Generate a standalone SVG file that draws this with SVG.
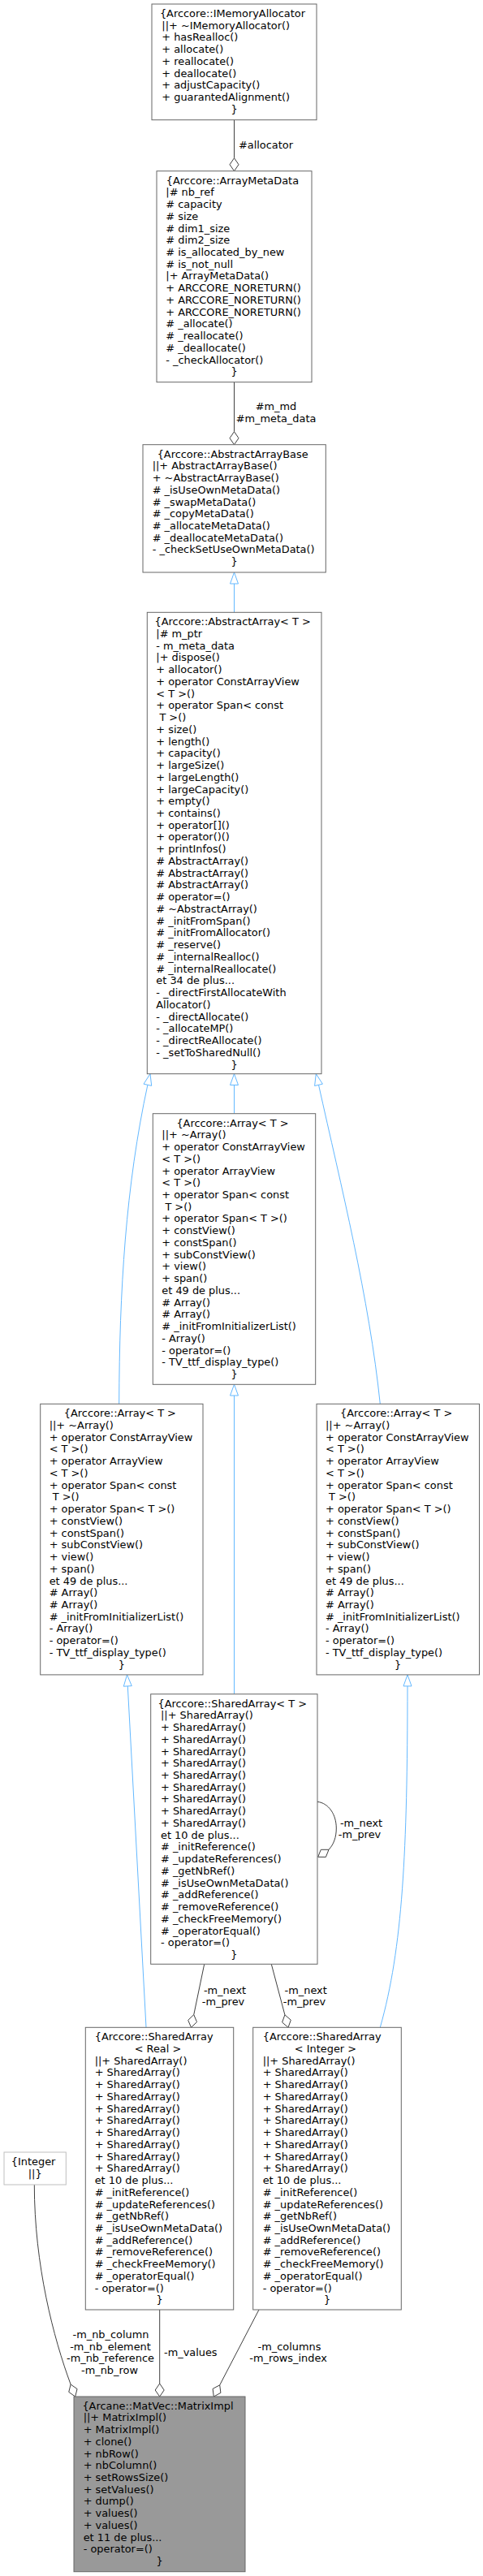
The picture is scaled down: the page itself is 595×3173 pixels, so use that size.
<svg xmlns="http://www.w3.org/2000/svg" width="595" height="3173" viewBox="0 0 595 3173">
<style>
.box{fill:#ffffff;stroke:#666666;stroke-width:1}
.boxg{fill:#ffffff;stroke:#bfbfbf;stroke-width:1}
.boxm{fill:#999999;stroke:#666666;stroke-width:1}
text{font-family:"DejaVu Sans","Liberation Sans",sans-serif;font-size:12.9px;fill:#000000}
.c{text-anchor:middle}
.agg{fill:none;stroke:#404040;stroke-width:1}
.inh{fill:none;stroke:#63b8ff;stroke-width:1}
.dia{fill:#ffffff;stroke:#404040;stroke-width:1}
.tri{fill:#ffffff;stroke:#63b8ff;stroke-width:1}
</style>
<rect width="595" height="3173" fill="#ffffff"/>
<g id="edges">
  <path class="agg" d="M288.5,147.7 L288.5,194.7"/>
  <polygon class="dia" points="288.5,210.7 294,202.7 288.5,194.7 283,202.7"/>
  <text class="c" x="327.5" y="182.8">#allocator</text>
  <path class="agg" d="M288.5,470.7 L288.5,531.7"/>
  <polygon class="dia" points="288.5,547.7 294,539.7 288.5,531.7 283,539.7"/>
  <text class="c" x="340" y="504.5">#m_md</text>
  <text class="c" x="340" y="519.5">#m_meta_data</text>
  <path class="inh" d="M288.5,719 L288.5,754.3"/>
  <polygon class="tri" points="288.5,705 283.5,719 293.5,719"/>
  <path class="inh" d="M146.7,1729.3 C147,1590 155,1460 181.9,1336.3"/>
  <polygon class="tri" points="185,1322.7 186.7,1337.4 177,1335.2"/>
  <path class="inh" d="M288.5,1336.5 L288.5,1371.7"/>
  <polygon class="tri" points="288.5,1322.7 283.5,1336.5 293.5,1336.5"/>
  <path class="inh" d="M468.3,1729.3 C455,1600 420,1460 392.5,1336.3"/>
  <polygon class="tri" points="389.3,1322.7 397.4,1335.2 387.6,1337.5"/>
  <path class="inh" d="M288.5,1719 L288.5,2086.7"/>
  <polygon class="tri" points="288.5,1705.3 283.5,1719 293.5,1719"/>
  <path class="inh" d="M157.3,2076.9 L180,2497.3"/>
  <polygon class="tri" points="156.5,2062.9 162.3,2076.6 152.3,2077.2"/>
  <path class="inh" d="M502,2076.9 C502,2280 496,2400 468.3,2497.3"/>
  <polygon class="tri" points="502,2062.9 497,2076.9 507,2076.9"/>
  <path class="agg" d="M391,2219.3 C405,2221 414.3,2235 414.3,2252 C414.3,2263 411,2272 405,2278.3"/>
  <polygon class="dia" points="391.7,2287.3 401.4,2287.4 405,2278.3 395.3,2278.3"/>
  <text class="c" x="445" y="2249.5">-m_next</text>
  <text class="c" x="443" y="2264">-m_prev</text>
  <path class="agg" d="M251.7,2419.3 L238.75,2481.6"/>
  <polygon class="dia" points="235.5,2497.3 242.5,2490.6 238.75,2481.6 231.7,2488.4"/>
  <text class="c" x="277" y="2455.5">-m_next</text>
  <text class="c" x="275" y="2469.5">-m_prev</text>
  <path class="agg" d="M334.3,2419.3 L350.9,2481.8"/>
  <polygon class="dia" points="355,2497.3 358.3,2488.2 350.9,2481.8 347.6,2491"/>
  <text class="c" x="376.7" y="2455.5">-m_next</text>
  <text class="c" x="375" y="2469.5">-m_prev</text>
  <path class="agg" d="M42.3,2691 C42.3,2790 66,2880 87.1,2937"/>
  <polygon class="dia" points="92.7,2952 95.05,2942.6 87.1,2937 84.75,2946.4"/>
  <text class="c" x="136.5" y="2880">-m_nb_column</text>
  <text class="c" x="136" y="2894.5">-m_nb_element</text>
  <text class="c" x="136" y="2909">-m_nb_reference</text>
  <text class="c" x="135" y="2923.8">-m_nb_row</text>
  <path class="agg" d="M196.7,2845 L196.7,2936"/>
  <polygon class="dia" points="196.7,2952 202.2,2944 196.7,2936 191.2,2944"/>
  <text class="c" x="234.8" y="2902">-m_values</text>
  <path class="agg" d="M319,2845 L270.7,2937.8"/>
  <polygon class="dia" points="263.3,2952 271.9,2947.4 270.7,2937.8 262.1,2942.4"/>
  <text class="c" x="356.5" y="2894.5">-m_columns</text>
  <text class="c" x="355" y="2909">-m_rows_index</text>
</g>

<g id="node_IMemoryAllocator">
  <rect class="box" x="187" y="5" width="203" height="142.7"/>
  <text>
    <tspan class="c" x="288.5" y="20.8">{Arccore::IMemoryAllocator</tspan>
    <tspan x="199.3" y="35.5">||+ ~IMemoryAllocator()</tspan>
    <tspan x="199.3" y="50.3">+ hasRealloc()</tspan>
    <tspan x="199.3" y="65">+ allocate()</tspan>
    <tspan x="199.3" y="79.8">+ reallocate()</tspan>
    <tspan x="199.3" y="94.5">+ deallocate()</tspan>
    <tspan x="199.3" y="109.2">+ adjustCapacity()</tspan>
    <tspan x="199.3" y="124">+ guarantedAlignment()</tspan>
    <tspan class="c" x="288.5" y="138.7">}</tspan>
  </text>
</g>

<g id="node_ArrayMetaData">
  <rect class="box" x="193" y="210.7" width="191" height="260"/>
  <text>
    <tspan class="c" x="288.5" y="226.5">{Arccore::ArrayMetaData</tspan>
    <tspan x="204.3" y="241.2">|# nb_ref</tspan>
    <tspan x="204.3" y="256"># capacity</tspan>
    <tspan x="204.3" y="270.7"># size</tspan>
    <tspan x="204.3" y="285.5"># dim1_size</tspan>
    <tspan x="204.3" y="300.2"># dim2_size</tspan>
    <tspan x="204.3" y="314.9"># is_allocated_by_new</tspan>
    <tspan x="204.3" y="329.7"># is_not_null</tspan>
    <tspan x="204.3" y="344.4">|+ ArrayMetaData()</tspan>
    <tspan x="204.3" y="359.2">+ ARCCORE_NORETURN()</tspan>
    <tspan x="204.3" y="373.9">+ ARCCORE_NORETURN()</tspan>
    <tspan x="204.3" y="388.6">+ ARCCORE_NORETURN()</tspan>
    <tspan x="204.3" y="403.4"># _allocate()</tspan>
    <tspan x="204.3" y="418.1"># _reallocate()</tspan>
    <tspan x="204.3" y="432.9"># _deallocate()</tspan>
    <tspan x="204.3" y="447.6">- _checkAllocator()</tspan>
    <tspan class="c" x="288.5" y="462.3">}</tspan>
  </text>
</g>

<g id="node_AbstractArrayBase">
  <rect class="box" x="176" y="547.7" width="225.3" height="157.3"/>
  <text>
    <tspan class="c" x="288.7" y="563.5">{Arccore::AbstractArrayBase</tspan>
    <tspan x="187.7" y="578.2">||+ AbstractArrayBase()</tspan>
    <tspan x="187.7" y="593">+ ~AbstractArrayBase()</tspan>
    <tspan x="187.7" y="607.7"># _isUseOwnMetaData()</tspan>
    <tspan x="187.7" y="622.5"># _swapMetaData()</tspan>
    <tspan x="187.7" y="637.2"># _copyMetaData()</tspan>
    <tspan x="187.7" y="651.9"># _allocateMetaData()</tspan>
    <tspan x="187.7" y="666.7"># _deallocateMetaData()</tspan>
    <tspan x="187.7" y="681.4">- _checkSetUseOwnMetaData()</tspan>
    <tspan class="c" x="288.7" y="696.2">}</tspan>
  </text>
</g>

<g id="node_AbstractArray">
  <rect class="box" x="181.3" y="754.3" width="214.7" height="568.4"/>
  <text>
    <tspan class="c" x="288.7" y="770.1">{Arccore::AbstractArray&lt; T &gt;</tspan>
    <tspan x="192.3" y="784.8">|# m_ptr</tspan>
    <tspan x="192.3" y="799.6">- m_meta_data</tspan>
    <tspan x="192.3" y="814.3">|+ dispose()</tspan>
    <tspan x="192.3" y="829.1">+ allocator()</tspan>
    <tspan x="192.3" y="843.8">+ operator ConstArrayView</tspan>
    <tspan x="192.3" y="858.5">&lt; T &gt;()</tspan>
    <tspan x="192.3" y="873.3">+ operator Span&lt; const</tspan>
    <tspan x="192.3" y="888">&#160;T &gt;()</tspan>
    <tspan x="192.3" y="902.8">+ size()</tspan>
    <tspan x="192.3" y="917.5">+ length()</tspan>
    <tspan x="192.3" y="932.2">+ capacity()</tspan>
    <tspan x="192.3" y="947">+ largeSize()</tspan>
    <tspan x="192.3" y="961.7">+ largeLength()</tspan>
    <tspan x="192.3" y="976.5">+ largeCapacity()</tspan>
    <tspan x="192.3" y="991.2">+ empty()</tspan>
    <tspan x="192.3" y="1005.9">+ contains()</tspan>
    <tspan x="192.3" y="1020.7">+ operator[]()</tspan>
    <tspan x="192.3" y="1035.4">+ operator()()</tspan>
    <tspan x="192.3" y="1050.2">+ printInfos()</tspan>
    <tspan x="192.3" y="1064.9"># AbstractArray()</tspan>
    <tspan x="192.3" y="1079.6"># AbstractArray()</tspan>
    <tspan x="192.3" y="1094.4"># AbstractArray()</tspan>
    <tspan x="192.3" y="1109.1"># operator=()</tspan>
    <tspan x="192.3" y="1123.9"># ~AbstractArray()</tspan>
    <tspan x="192.3" y="1138.6"># _initFromSpan()</tspan>
    <tspan x="192.3" y="1153.3"># _initFromAllocator()</tspan>
    <tspan x="192.3" y="1168.1"># _reserve()</tspan>
    <tspan x="192.3" y="1182.8"># _internalRealloc()</tspan>
    <tspan x="192.3" y="1197.6"># _internalReallocate()</tspan>
    <tspan x="192.3" y="1212.3">et 34 de plus...</tspan>
    <tspan x="192.3" y="1227">- _directFirstAllocateWith</tspan>
    <tspan x="192.3" y="1241.8">Allocator()</tspan>
    <tspan x="192.3" y="1256.5">- _directAllocate()</tspan>
    <tspan x="192.3" y="1271.3">- _allocateMP()</tspan>
    <tspan x="192.3" y="1286">- _directReAllocate()</tspan>
    <tspan x="192.3" y="1300.7">- _setToSharedNull()</tspan>
    <tspan class="c" x="288.7" y="1315.5">}</tspan>
  </text>
</g>

<g id="node_Array_mid">
  <rect class="box" x="188.3" y="1371.7" width="200.4" height="333.6"/>
  <text>
    <tspan class="c" x="288.5" y="1387.5">{Arccore::Array&lt; T &gt;</tspan>
    <tspan x="199.3" y="1402.2">||+ ~Array()</tspan>
    <tspan x="199.3" y="1417">+ operator ConstArrayView</tspan>
    <tspan x="199.3" y="1431.7">&lt; T &gt;()</tspan>
    <tspan x="199.3" y="1446.5">+ operator ArrayView</tspan>
    <tspan x="199.3" y="1461.2">&lt; T &gt;()</tspan>
    <tspan x="199.3" y="1475.9">+ operator Span&lt; const</tspan>
    <tspan x="199.3" y="1490.7">&#160;T &gt;()</tspan>
    <tspan x="199.3" y="1505.4">+ operator Span&lt; T &gt;()</tspan>
    <tspan x="199.3" y="1520.2">+ constView()</tspan>
    <tspan x="199.3" y="1534.9">+ constSpan()</tspan>
    <tspan x="199.3" y="1549.6">+ subConstView()</tspan>
    <tspan x="199.3" y="1564.4">+ view()</tspan>
    <tspan x="199.3" y="1579.1">+ span()</tspan>
    <tspan x="199.3" y="1593.9">et 49 de plus...</tspan>
    <tspan x="199.3" y="1608.6"># Array()</tspan>
    <tspan x="199.3" y="1623.3"># Array()</tspan>
    <tspan x="199.3" y="1638.1"># _initFromInitializerList()</tspan>
    <tspan x="199.3" y="1652.8">- Array()</tspan>
    <tspan x="199.3" y="1667.6">- operator=()</tspan>
    <tspan x="199.3" y="1682.3">- TV_ttf_display_type()</tspan>
    <tspan class="c" x="288.5" y="1697">}</tspan>
  </text>
</g>

<g id="node_Array_left">
  <rect class="box" x="49.7" y="1729.3" width="200.3" height="333.6"/>
  <text>
    <tspan class="c" x="149.9" y="1745.1">{Arccore::Array&lt; T &gt;</tspan>
    <tspan x="60.7" y="1759.8">||+ ~Array()</tspan>
    <tspan x="60.7" y="1774.6">+ operator ConstArrayView</tspan>
    <tspan x="60.7" y="1789.3">&lt; T &gt;()</tspan>
    <tspan x="60.7" y="1804.1">+ operator ArrayView</tspan>
    <tspan x="60.7" y="1818.8">&lt; T &gt;()</tspan>
    <tspan x="60.7" y="1833.5">+ operator Span&lt; const</tspan>
    <tspan x="60.7" y="1848.3">&#160;T &gt;()</tspan>
    <tspan x="60.7" y="1863">+ operator Span&lt; T &gt;()</tspan>
    <tspan x="60.7" y="1877.8">+ constView()</tspan>
    <tspan x="60.7" y="1892.5">+ constSpan()</tspan>
    <tspan x="60.7" y="1907.2">+ subConstView()</tspan>
    <tspan x="60.7" y="1922">+ view()</tspan>
    <tspan x="60.7" y="1936.7">+ span()</tspan>
    <tspan x="60.7" y="1951.5">et 49 de plus...</tspan>
    <tspan x="60.7" y="1966.2"># Array()</tspan>
    <tspan x="60.7" y="1980.9"># Array()</tspan>
    <tspan x="60.7" y="1995.7"># _initFromInitializerList()</tspan>
    <tspan x="60.7" y="2010.4">- Array()</tspan>
    <tspan x="60.7" y="2025.2">- operator=()</tspan>
    <tspan x="60.7" y="2039.9">- TV_ttf_display_type()</tspan>
    <tspan class="c" x="149.9" y="2054.6">}</tspan>
  </text>
</g>

<g id="node_Array_right">
  <rect class="box" x="390" y="1729.3" width="200.5" height="333.6"/>
  <text>
    <tspan class="c" x="490.2" y="1745.1">{Arccore::Array&lt; T &gt;</tspan>
    <tspan x="401" y="1759.8">||+ ~Array()</tspan>
    <tspan x="401" y="1774.6">+ operator ConstArrayView</tspan>
    <tspan x="401" y="1789.3">&lt; T &gt;()</tspan>
    <tspan x="401" y="1804.1">+ operator ArrayView</tspan>
    <tspan x="401" y="1818.8">&lt; T &gt;()</tspan>
    <tspan x="401" y="1833.5">+ operator Span&lt; const</tspan>
    <tspan x="401" y="1848.3">&#160;T &gt;()</tspan>
    <tspan x="401" y="1863">+ operator Span&lt; T &gt;()</tspan>
    <tspan x="401" y="1877.8">+ constView()</tspan>
    <tspan x="401" y="1892.5">+ constSpan()</tspan>
    <tspan x="401" y="1907.2">+ subConstView()</tspan>
    <tspan x="401" y="1922">+ view()</tspan>
    <tspan x="401" y="1936.7">+ span()</tspan>
    <tspan x="401" y="1951.5">et 49 de plus...</tspan>
    <tspan x="401" y="1966.2"># Array()</tspan>
    <tspan x="401" y="1980.9"># Array()</tspan>
    <tspan x="401" y="1995.7"># _initFromInitializerList()</tspan>
    <tspan x="401" y="2010.4">- Array()</tspan>
    <tspan x="401" y="2025.2">- operator=()</tspan>
    <tspan x="401" y="2039.9">- TV_ttf_display_type()</tspan>
    <tspan class="c" x="490.2" y="2054.6">}</tspan>
  </text>
</g>

<g id="node_SharedArray_T">
  <rect class="box" x="185.7" y="2086.7" width="205.3" height="332.6"/>
  <text>
    <tspan class="c" x="288.3" y="2102.5">{Arccore::SharedArray&lt; T &gt;</tspan>
    <tspan x="198" y="2117.2">||+ SharedArray()</tspan>
    <tspan x="198" y="2132">+ SharedArray()</tspan>
    <tspan x="198" y="2146.7">+ SharedArray()</tspan>
    <tspan x="198" y="2161.5">+ SharedArray()</tspan>
    <tspan x="198" y="2176.2">+ SharedArray()</tspan>
    <tspan x="198" y="2190.9">+ SharedArray()</tspan>
    <tspan x="198" y="2205.7">+ SharedArray()</tspan>
    <tspan x="198" y="2220.4">+ SharedArray()</tspan>
    <tspan x="198" y="2235.2">+ SharedArray()</tspan>
    <tspan x="198" y="2249.9">+ SharedArray()</tspan>
    <tspan x="198" y="2264.6">et 10 de plus...</tspan>
    <tspan x="198" y="2279.4"># _initReference()</tspan>
    <tspan x="198" y="2294.1"># _updateReferences()</tspan>
    <tspan x="198" y="2308.9"># _getNbRef()</tspan>
    <tspan x="198" y="2323.6"># _isUseOwnMetaData()</tspan>
    <tspan x="198" y="2338.3"># _addReference()</tspan>
    <tspan x="198" y="2353.1"># _removeReference()</tspan>
    <tspan x="198" y="2367.8"># _checkFreeMemory()</tspan>
    <tspan x="198" y="2382.6"># _operatorEqual()</tspan>
    <tspan x="198" y="2397.3">- operator=()</tspan>
    <tspan class="c" x="288.3" y="2412">}</tspan>
  </text>
</g>

<g id="node_SharedArray_Real">
  <rect class="box" x="105.3" y="2497.3" width="182.4" height="347.7"/>
  <text>
    <tspan x="116.7" y="2513.1">{Arccore::SharedArray</tspan>
    <tspan class="c" x="196.5" y="2527.8">&lt; Real &gt;</tspan>
    <tspan x="116.7" y="2542.6">||+ SharedArray()</tspan>
    <tspan x="116.7" y="2557.3">+ SharedArray()</tspan>
    <tspan x="116.7" y="2572.1">+ SharedArray()</tspan>
    <tspan x="116.7" y="2586.8">+ SharedArray()</tspan>
    <tspan x="116.7" y="2601.5">+ SharedArray()</tspan>
    <tspan x="116.7" y="2616.3">+ SharedArray()</tspan>
    <tspan x="116.7" y="2631">+ SharedArray()</tspan>
    <tspan x="116.7" y="2645.8">+ SharedArray()</tspan>
    <tspan x="116.7" y="2660.5">+ SharedArray()</tspan>
    <tspan x="116.7" y="2675.2">+ SharedArray()</tspan>
    <tspan x="116.7" y="2690">et 10 de plus...</tspan>
    <tspan x="116.7" y="2704.7"># _initReference()</tspan>
    <tspan x="116.7" y="2719.5"># _updateReferences()</tspan>
    <tspan x="116.7" y="2734.2"># _getNbRef()</tspan>
    <tspan x="116.7" y="2748.9"># _isUseOwnMetaData()</tspan>
    <tspan x="116.7" y="2763.7"># _addReference()</tspan>
    <tspan x="116.7" y="2778.4"># _removeReference()</tspan>
    <tspan x="116.7" y="2793.2"># _checkFreeMemory()</tspan>
    <tspan x="116.7" y="2807.9"># _operatorEqual()</tspan>
    <tspan x="116.7" y="2822.6">- operator=()</tspan>
    <tspan class="c" x="196.5" y="2837.4">}</tspan>
  </text>
</g>

<g id="node_SharedArray_Integer">
  <rect class="box" x="311.7" y="2497.3" width="182.6" height="347.7"/>
  <text>
    <tspan x="323.7" y="2513.1">{Arccore::SharedArray</tspan>
    <tspan class="c" x="403" y="2527.8">&lt; Integer &gt;</tspan>
    <tspan x="323.7" y="2542.6">||+ SharedArray()</tspan>
    <tspan x="323.7" y="2557.3">+ SharedArray()</tspan>
    <tspan x="323.7" y="2572.1">+ SharedArray()</tspan>
    <tspan x="323.7" y="2586.8">+ SharedArray()</tspan>
    <tspan x="323.7" y="2601.5">+ SharedArray()</tspan>
    <tspan x="323.7" y="2616.3">+ SharedArray()</tspan>
    <tspan x="323.7" y="2631">+ SharedArray()</tspan>
    <tspan x="323.7" y="2645.8">+ SharedArray()</tspan>
    <tspan x="323.7" y="2660.5">+ SharedArray()</tspan>
    <tspan x="323.7" y="2675.2">+ SharedArray()</tspan>
    <tspan x="323.7" y="2690">et 10 de plus...</tspan>
    <tspan x="323.7" y="2704.7"># _initReference()</tspan>
    <tspan x="323.7" y="2719.5"># _updateReferences()</tspan>
    <tspan x="323.7" y="2734.2"># _getNbRef()</tspan>
    <tspan x="323.7" y="2748.9"># _isUseOwnMetaData()</tspan>
    <tspan x="323.7" y="2763.7"># _addReference()</tspan>
    <tspan x="323.7" y="2778.4"># _removeReference()</tspan>
    <tspan x="323.7" y="2793.2"># _checkFreeMemory()</tspan>
    <tspan x="323.7" y="2807.9"># _operatorEqual()</tspan>
    <tspan x="323.7" y="2822.6">- operator=()</tspan>
    <tspan class="c" x="403" y="2837.4">}</tspan>
  </text>
</g>

<g id="node_Integer">
  <rect class="boxg" x="5" y="2651" width="76.3" height="40"/>
  <text>
    <tspan class="c" x="43.2" y="2667">{Integer</tspan>
    <tspan class="c" x="43.2" y="2681.8">||}</tspan>
  </text>
</g>

<g id="node_MatrixImpl">
  <rect class="boxm" x="91" y="2952" width="211" height="215.7"/>
  <text>
    <tspan class="c" x="196.5" y="2967.5">{Arcane::MatVec::MatrixImpl</tspan>
    <tspan x="102.7" y="2982.2">||+ MatrixImpl()</tspan>
    <tspan x="102.7" y="2997">+ MatrixImpl()</tspan>
    <tspan x="102.7" y="3011.7">+ clone()</tspan>
    <tspan x="102.7" y="3026.5">+ nbRow()</tspan>
    <tspan x="102.7" y="3041.2">+ nbColumn()</tspan>
    <tspan x="102.7" y="3055.9">+ setRowsSize()</tspan>
    <tspan x="102.7" y="3070.7">+ setValues()</tspan>
    <tspan x="102.7" y="3085.4">+ dump()</tspan>
    <tspan x="102.7" y="3100.2">+ values()</tspan>
    <tspan x="102.7" y="3114.9">+ values()</tspan>
    <tspan x="102.7" y="3129.6">et 11 de plus...</tspan>
    <tspan x="102.7" y="3144.4">- operator=()</tspan>
    <tspan class="c" x="196.5" y="3159.1">}</tspan>
  </text>
</g>
</svg>
